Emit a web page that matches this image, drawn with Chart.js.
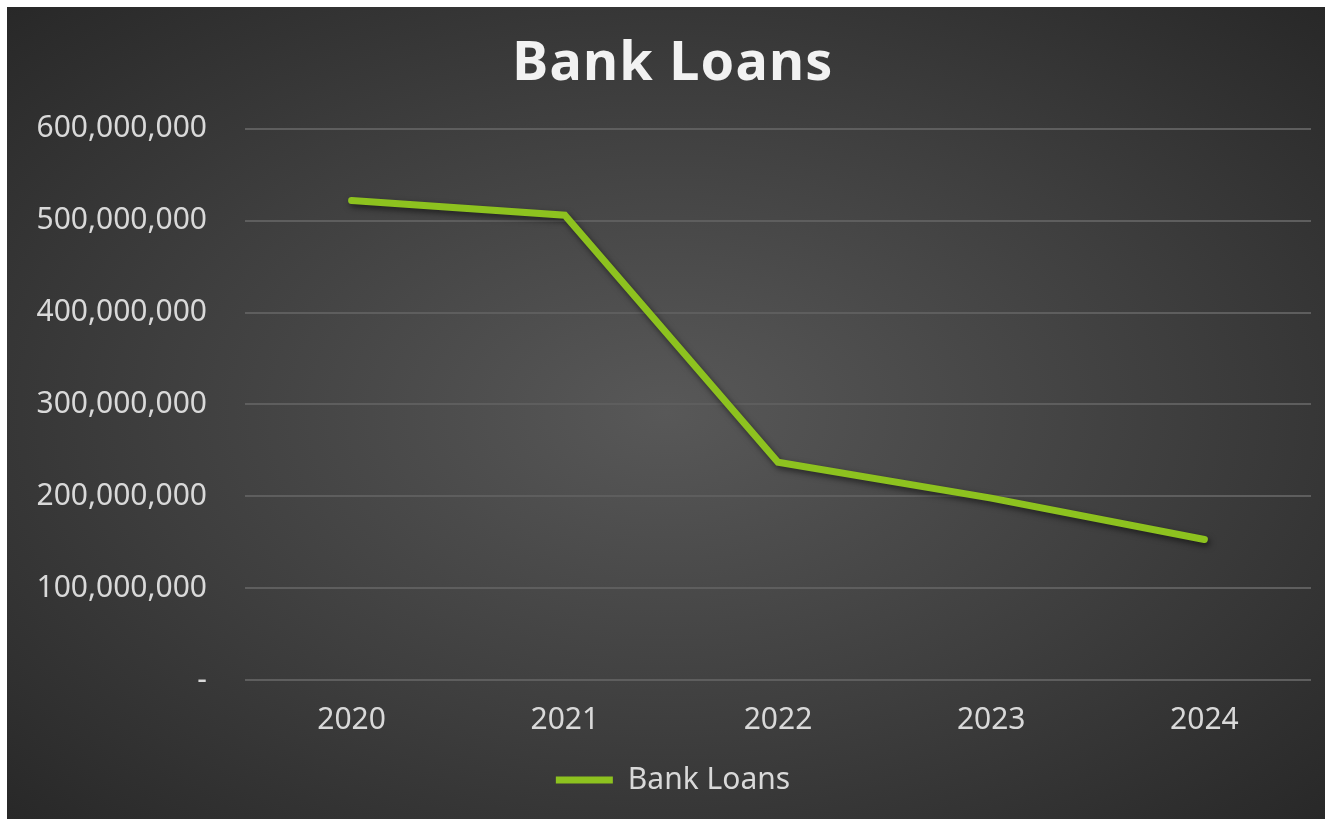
<!DOCTYPE html>
<html>
<head>
<meta charset="utf-8">
<script src="https://cdn.jsdelivr.net/npm/chart.js@4"></script>
<style>
  html, body { margin: 0; padding: 0; background: #fff; }
  #wrap {
    position: absolute; left: 7px; top: 7px; width: 1318px; height: 812px;
    background: radial-gradient(ellipse farthest-corner at 50% 50%, #585858 0%, #3e3e3e 55%, #282828 100%);
  }
</style>
</head>
<body>
<div id="wrap"><canvas id="chart" width="1318" height="812"></canvas></div>
<script>
const years = ['2020', '2021', '2022', '2023', '2024']
const bankLoans = [522000000, 506000000, 237000000, 198000000, 153000000]
const seriesName = 'Bank Loans'
const chartTitle = 'Bank Loans'

const fontFamily = "'Noto Sans', 'Open Sans', sans-serif"

// line shadow + letter spaced title
const lookPlugin = {
  id: 'look',
  afterLayout(chart) {
    const t = chart.titleBlock
    if (t && !t._spaced) {
      const draw = t.draw.bind(t)
      t.draw = function(area) {
        chart.ctx.save()
        chart.ctx.letterSpacing = '1.2px'
        draw(area)
        chart.ctx.restore()
      }
      t._spaced = true
    }
  },
  beforeDatasetsDraw(chart) {
    const ctx = chart.ctx
    ctx.save()
    ctx.shadowColor = 'rgba(0,0,0,0.55)'
    ctx.shadowBlur = 6
    ctx.shadowOffsetX = 2
    ctx.shadowOffsetY = 3
  },
  afterDatasetsDraw(chart) {
    chart.ctx.restore()
  }
}

new Chart(document.getElementById('chart'), {
  type: 'line',
  data: {
    labels: years,
    datasets: [{
      label: seriesName,
      data: bankLoans,
      borderColor: '#8dc21f',
      backgroundColor: '#8dc21f',
      borderWidth: 7,
      borderCapStyle: 'round',
      borderJoinStyle: 'miter',
      pointRadius: 0,
      tension: 0
    }]
  },
  options: {
    responsive: false,
    animation: false,
    layout: { padding: { left: 28, right: 14, top: 10, bottom: 14 } },
    scales: {
      x: {
        offset: true,
        grid: { display: false },
        border: { display: false },
        ticks: { color: '#d9d9d9', font: { family: fontFamily, size: 30 }, padding: 14 },
        afterFit: function(scale) { scale.height = 75 }
      },
      y: {
        min: 0,
        max: 600000000,
        ticks: {
          stepSize: 100000000,
          color: '#d9d9d9',
          padding: 38,
          font: { family: fontFamily, size: 30 },
          callback: function(v) { return v === 0 ? '-' : v.toLocaleString('en-US') }
        },
        grid: { color: '#5e5e5e', lineWidth: 2, drawTicks: false },
        border: { display: false },
        afterFit: function(scale) { scale.width = 210 }
      }
    },
    plugins: {
      title: {
        display: true,
        text: chartTitle,
        color: '#f2f2f2',
        font: { family: fontFamily, size: 54, weight: 'bold' },
        padding: { top: 15, bottom: 32 }
      },
      legend: {
        position: 'bottom',
        labels: {
          color: '#d9d9d9',
          font: { family: fontFamily, size: 30 },
          usePointStyle: true,
          pointStyle: 'line',
          pointStyleWidth: 57,
          padding: 10
        }
      },
      tooltip: { enabled: false }
    }
  },
  plugins: [lookPlugin]
})
</script>
</body>
</html>
